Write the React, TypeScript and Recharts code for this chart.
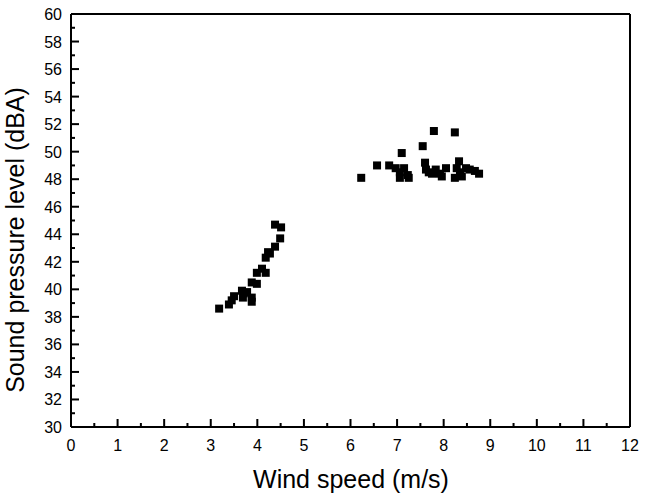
import React from 'react'
import { ScatterChart, Scatter, XAxis, YAxis } from 'recharts'

// low wind speed cluster
const lowWind = [3.18, 3.39, 3.45, 3.5, 3.67, 3.71, 3.69, 3.78, 3.88, 3.88, 3.88, 3.99, 3.99, 4.1, 4.18, 4.18, 4.23, 4.27, 4.38, 4.38, 4.49, 4.51]
const lowLevel = [38.6, 38.9, 39.2, 39.5, 39.9, 39.7, 39.4, 39.8, 39.4, 39.1, 40.5, 40.4, 41.2, 41.5, 41.2, 42.3, 42.7, 42.6, 43.1, 44.7, 43.7, 44.5]

// high wind speed cluster
const highWind = [6.23, 6.57, 6.83, 6.97, 7.06, 7.06, 7.1, 7.15, 7.23, 7.25, 7.55, 7.6, 7.62, 7.68, 7.75, 7.79, 7.83, 7.92, 7.96, 8.05, 8.24, 8.24, 8.28, 8.33, 8.35, 8.39, 8.48, 8.56, 8.67, 8.76]
const highLevel = [48.1, 49.0, 49.0, 48.8, 48.5, 48.1, 49.9, 48.8, 48.3, 48.1, 50.4, 49.2, 48.7, 48.5, 48.4, 51.5, 48.7, 48.4, 48.2, 48.8, 51.4, 48.1, 48.8, 49.3, 48.5, 48.2, 48.8, 48.7, 48.6, 48.4]

const xTicks = [0, 0.5, 1, 1.5, 2, 2.5, 3, 3.5, 4, 4.5, 5, 5.5, 6, 6.5, 7, 7.5, 8, 8.5, 9, 9.5, 10, 10.5, 11, 11.5, 12]
const yTicks = [30, 31, 32, 33, 34, 35, 36, 37, 38, 39, 40, 41, 42, 43, 44, 45, 46, 47, 48, 49, 50, 51, 52, 53, 54, 55, 56, 57, 58, 59, 60]

const data = [
  ...lowWind.map((w, i) => ({ wind: w, spl: lowLevel[i] })),
  ...highWind.map((w, i) => ({ wind: w, spl: highLevel[i] })),
]

const font = "'Liberation Sans', Arial, sans-serif"

const BottomTick = (props: any) => {
  const { x, y, payload } = props
  const major = Number.isInteger(payload.value)
  const len = major ? 8 : 4
  return (
    <g>
      <rect x={x - 1} y={y - len} width={2} height={len} fill="#000" />
      {major && (
        <text x={x} y={y + 24} textAnchor="middle" fontSize={16} fontFamily={font} fill="#000">
          {payload.value}
        </text>
      )}
    </g>
  )
}

const TopTick = (props: any) => {
  const { x, y, payload } = props
  const len = Number.isInteger(payload.value) ? 8 : 4
  return <rect x={x - 1} y={y} width={2} height={len} fill="#000" />
}

const LeftTick = (props: any) => {
  const { x, y, payload } = props
  const major = payload.value % 2 === 0
  const len = major ? 8 : 4
  return (
    <g>
      <rect x={x} y={y - 1} width={len} height={2} fill="#000" />
      {major && (
        <text x={x - 9} y={y + 6} textAnchor="end" fontSize={16} fontFamily={font} fill="#000">
          {payload.value}
        </text>
      )}
    </g>
  )
}

const RightTick = (props: any) => {
  const { x, y, payload } = props
  const len = payload.value % 2 === 0 ? 8 : 4
  return <rect x={x - len} y={y - 1} width={len} height={2} fill="#000" />
}

const Square = (props: any) => {
  const { cx, cy } = props
  return <rect x={cx - 4} y={cy - 4} width={8} height={8} fill="#000" />
}

export default function App() {
  return (
    <div style={{ position: 'absolute', left: 0, top: 0, background: '#fff' }}>
      <ScatterChart width={650} height={500} margin={{ top: 13, right: 19, left: 0, bottom: 0 }}>
        <XAxis
          xAxisId="bottom"
          type="number"
          dataKey="wind"
          domain={[0, 12]}
          ticks={xTicks}
          interval={0}
          height={73}
          tickSize={0}
          tickMargin={0}
          tickLine={false}
          tick={<BottomTick />}
          axisLine={{ stroke: '#000', strokeWidth: 2 }}
          label={{
            content: () => (
              <text x={351} y={488} textAnchor="middle" fontSize={25} fontFamily={font} fill="#000">
                Wind speed (m/s)
              </text>
            ),
          }}
        />
        <XAxis
          xAxisId="top"
          orientation="top"
          type="number"
          dataKey="wind"
          domain={[0, 12]}
          ticks={xTicks}
          interval={0}
          height={1}
          tickSize={0}
          tickMargin={0}
          tickLine={false}
          tick={<TopTick />}
          axisLine={{ stroke: '#000', strokeWidth: 2 }}
        />
        <YAxis
          yAxisId="left"
          type="number"
          dataKey="spl"
          domain={[30, 60]}
          ticks={yTicks}
          interval={0}
          width={71}
          tickSize={0}
          tickMargin={0}
          tickLine={false}
          tick={<LeftTick />}
          axisLine={{ stroke: '#000', strokeWidth: 2 }}
          label={{
            content: () => (
              <text
                transform="translate(24,240) rotate(-90)"
                textAnchor="middle"
                fontSize={25}
                fontFamily={font}
                fill="#000"
              >
                Sound pressure level (dBA)
              </text>
            ),
          }}
        />
        <YAxis
          yAxisId="right"
          orientation="right"
          type="number"
          dataKey="spl"
          domain={[30, 60]}
          ticks={yTicks}
          interval={0}
          width={1}
          tickSize={0}
          tickMargin={0}
          tickLine={false}
          tick={<RightTick />}
          axisLine={{ stroke: '#000', strokeWidth: 2 }}
        />
        <Scatter
          data={data}
          xAxisId="bottom"
          yAxisId="left"
          fill="#000"
          shape={<Square />}
          isAnimationActive={false}
        />
      </ScatterChart>
    </div>
  )
}
